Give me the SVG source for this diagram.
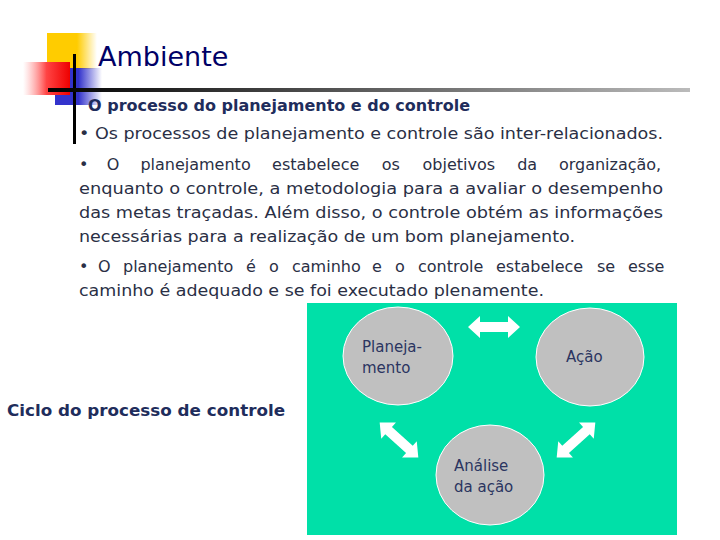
<svg xmlns="http://www.w3.org/2000/svg" width="720" height="540" viewBox="0 0 720 540">
<style>
.b{font-family:"DejaVu Sans",Verdana,sans-serif;font-size:16px;fill:#2a2f45}
.n{font-family:"DejaVu Sans",Verdana,sans-serif;font-size:15px;fill:#2b3560}
.c{fill:#c0c0c0;stroke:#fff;stroke-width:1}
.ar{fill:#fff}
</style>
<defs>
<linearGradient id="hl" x1="0" x2="1"><stop offset="0" stop-color="#000"/><stop offset="1" stop-color="#bbb"/></linearGradient>
<linearGradient id="rd" x1="0" x2="1"><stop offset="0" stop-color="#fff" stop-opacity="0.6"/><stop offset="0.5" stop-color="#f44"/><stop offset="1" stop-color="#e00"/></linearGradient>
<linearGradient id="bl" x1="0" x2="1"><stop offset="0.5" stop-color="#3333cc"/><stop offset="1" stop-color="#3333cc" stop-opacity="0"/></linearGradient>
<linearGradient id="yl" x1="0" x2="1"><stop offset="0.6" stop-color="#ffcc00"/><stop offset="1" stop-color="#ffcc00" stop-opacity="0"/></linearGradient>
<path id="arr" d="M-26,0 L-14,-11 L-14,-5 L14,-5 L14,-11 L26,0 L14,11 L14,5 L-14,5 L-14,11 Z"/>
</defs>
<rect width="720" height="540" fill="#fff"/>
<g id="logo">
<rect x="47" y="33" width="50" height="36" fill="url(#yl)"/>
<rect x="55" y="68" width="47" height="37" fill="url(#bl)"/>
<rect x="23" y="62" width="47" height="33" fill="url(#rd)"/>
<rect x="73" y="54" width="3" height="90" fill="#000"/>
<rect x="48" y="88" width="642" height="4" fill="url(#hl)"/>
</g>
<text x="98" y="66" font-family="DejaVu Sans,Verdana,sans-serif" font-size="27" fill="#000066">Ambiente</text>
<text x="88" y="111" class="b" font-weight="bold" style="fill:#1f2d5c">O processo do planejamento e do controle</text>
<text x="79" y="139" class="b" textLength="584" lengthAdjust="spacingAndGlyphs">• Os processos de planejamento e controle são inter-relacionados.</text>
<text y="170" class="b"><tspan x="79">•</tspan><tspan x="106.7">O</tspan><tspan x="140.4">planejamento</tspan><tspan x="272.1">estabelece</tspan><tspan x="381.8">os</tspan><tspan x="422.5">objetivos</tspan><tspan x="517.2">da</tspan><tspan x="558.9">organização,</tspan></text>
<text x="79" y="194" class="b" textLength="584" lengthAdjust="spacingAndGlyphs">enquanto o controle, a metodologia para a avaliar o desempenho</text>
<text x="79" y="218" class="b" textLength="584" lengthAdjust="spacingAndGlyphs">das metas traçadas. Além disso, o controle obtém as informações</text>
<text x="79" y="242" class="b" textLength="496" lengthAdjust="spacingAndGlyphs">necessárias para a realização de um bom planejamento.</text>
<text y="272" class="b"><tspan x="79">•</tspan><tspan x="98">O</tspan><tspan x="123">planejamento</tspan><tspan x="246">é</tspan><tspan x="269">o</tspan><tspan x="292">caminho</tspan><tspan x="372">e</tspan><tspan x="395">o</tspan><tspan x="418">controle</tspan><tspan x="496">estabelece</tspan><tspan x="597">se</tspan><tspan x="628">esse</tspan></text>
<text x="79" y="296" class="b" textLength="465" lengthAdjust="spacingAndGlyphs">caminho é adequado e se foi executado plenamente.</text>
<rect x="307" y="303" width="370" height="232" fill="#00e0a8"/>
<text x="7" y="416" font-family="DejaVu Sans,Verdana,sans-serif" font-size="15" font-weight="bold" fill="#1f2d5c" textLength="278" lengthAdjust="spacingAndGlyphs">Ciclo do processo de controle</text>
<g id="connectors">
<use href="#arr" class="ar" transform="translate(494,327)"/>
<use href="#arr" class="ar" transform="translate(399,440) rotate(42)"/>
<use href="#arr" class="ar" transform="translate(576,440) rotate(-42)"/>
</g>
<g id="planejamento"><ellipse class="c" cx="398" cy="356" rx="55" ry="49"/><text class="n" x="362" y="352">Planeja-</text><text class="n" x="362" y="373">mento</text></g>
<g id="acao"><ellipse class="c" cx="590" cy="357" rx="54" ry="49"/><text class="n" x="566" y="362">Ação</text></g>
<g id="analise"><ellipse class="c" cx="490" cy="475" rx="54" ry="50"/><text class="n" x="454" y="471">Análise</text><text class="n" x="454" y="492">da ação</text></g>
</svg>
